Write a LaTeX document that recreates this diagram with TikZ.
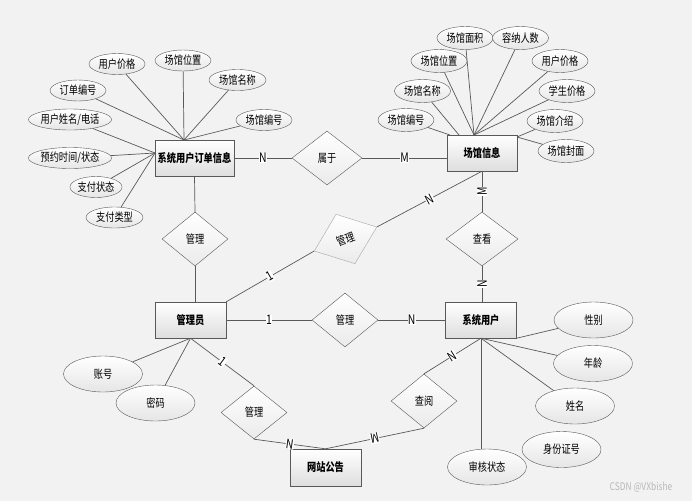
\documentclass[tikz,border=0pt]{standalone}
\usepackage{fontspec}
\setmainfont{Noto Sans CJK SC}[FakeStretch=0.8]
\usetikzlibrary{shapes}

\begin{document}
\begin{tikzpicture}[x=1pt, y=-1pt,
    every node/.style={font=\fontsize{11.5}{12}\selectfont},
    entity/.style={rectangle, draw=black!65, top color=white, bottom color=black!13, minimum width=71, minimum height=36, inner sep=0pt, font=\fontsize{11.5}{12}\selectfont\bfseries},
    rel/.style={diamond, draw=black!65, top color=white, bottom color=black!8, minimum width=66, minimum height=54, inner sep=0pt},
    attr/.style={ellipse, draw=black!65, top color=white, bottom color=black!10, minimum width=56, minimum height=21, inner sep=0pt},
    bigattr/.style={attr, minimum width=79, minimum height=36},
    card/.style={fill=white, inner sep=0.4pt, font=\fontsize{13}{13}\selectfont},
    link/.style={draw=black!65, line width=0.7pt}]
    \useasboundingbox (0,0) rectangle (692,501);
    \fill[black!5] (0,0) rectangle (692,501);

    \node[entity, minimum width=79] (order) at (194.5,158) {系统用户订单信息};
    \node[entity, minimum width=70] (venue) at (482,153) {场馆信息};
    \node[entity] (admin) at (190.5,320) {管理员};
    \node[entity] (sysuser) at (481,320) {系统用户};
    \node[entity, minimum height=37] (notice) at (325.5,467.5) {网站公告};

    \node[rel, minimum width=70] (belong) at (327,158) {属于};
    \node[rel] (mgr1) at (195,239) {管理};
    \node[rel, draw=black!35, rotate=21, minimum width=67, minimum height=53] (mgr2) at (345.5,239) {管理};
    \node[rel, minimum width=72] (view) at (482,239) {查看};
    \node[rel] (mgr3) at (345,320) {管理};
    \node[rel, minimum height=53] (mgr4) at (254,412.5) {管理};
    \node[rel] (read) at (424,401) {查阅};

    \coordinate (ohub) at (184,140);
    \coordinate (oleft) at (155,153);
    \foreach \n/\px/\py/\t/\w/\e in {
        oprice/117/64/用户价格/56/ohub,
        oloc/183/60.5/场馆位置/56/ohub,
        oname/237.5/80/场馆名称/57/ohub,
        ono/78/90.5/订单编号/56/ohub,
        ouser/70/119.5/{用户姓名/电话}/66/oleft,
        ocode/264/120/场馆编号/56/ohub,
        otime/70/158/{预约时间/状态}/66/oleft,
        opay/96/187/支付状态/46/oleft,
        optype/114.5/217.5/支付类型/57/oleft}
    {
        \node[attr, minimum width=\w] (\n) at (\px,\py) {\t};
        \draw[link] (\e) -- (\n);
    }

    \coordinate (vhub) at (474,135);
    \coordinate (vhub2) at (459,135);
    \coordinate (vhub3) at (450,135);
    \coordinate (vright) at (517,137);
    \foreach \n/\px/\py/\t/\e in {
        varea/465/38/场馆面积/vhub,
        vcap/520.5/38/容纳人数/vhub,
        vloc/439/61/场馆位置/vhub,
        vuprice/560/61/用户价格/vhub,
        vname/422.5/91/场馆名称/vhub2,
        vsprice/567/91/学生价格/vhub,
        vcode/406/120/场馆编号/vhub3,
        vintro/555/121/场馆介绍/vright,
        vcover/566/151/场馆封面/vright}
    {
        \node[attr, minimum height=23] (\n) at (\px,\py) {\t};
        \draw[link] (\e) -- (\n);
    }

    \node[bigattr] (acct) at (103,374) {账号};
    \node[bigattr] (pwd) at (155.5,403) {密码};
    \draw[link] (admin.south) -- (acct);
    \draw[link] (admin.south) -- (pwd);

    \node[bigattr] (sex) at (593.5,320) {性别};
    \node[bigattr] (age) at (593,363.5) {年龄};
    \node[bigattr] (uname) at (575,406) {姓名};
    \node[bigattr] (idno) at (561.5,449.5) {身份证号};
    \node[bigattr] (audit) at (487,467) {审核状态};
    \draw[link] (sysuser.south east) -- (sex);
    \draw[link] (sysuser.south) -- (age);
    \draw[link] (sysuser.south) -- (uname);
    \draw[link] (sysuser.south) -- (sysuser.south |- audit.north);

    \draw[link] (order.east) -- node[card]{N} (belong.west);
    \draw[link] (belong.east) -- node[card]{M} (belong.east -| venue.west);
    \draw[link] (order.south) -- (mgr1.north);
    \draw[link] (mgr1.south) -- (mgr1.south |- admin.north);
    \draw[link] (admin.north east) -- node[card, sloped]{1} (mgr2.west);
    \draw[link] (mgr2.east) -- node[card, sloped]{N} (venue.south);
    \draw[link] (venue.south) -- node[card, rotate=90]{M} (view.north);
    \draw[link] (view.south) -- node[card, rotate=90]{N} (view.south |- sysuser.north);
    \draw[link] (admin.east) -- node[card]{1} (mgr3.west);
    \draw[link] (mgr3.east) -- node[card]{N} (sysuser.west);
    \draw[link] (admin.south) -- node[card, sloped]{1} (mgr4.north);
    \draw[link] (mgr4.south) -- node[card, sloped]{N} (notice.north);
    \draw[link] (notice.north) -- node[card, rotate=192]{M} (read.south);
    \draw[link] (read.north) -- node[card, sloped]{N} (sysuser.south);

    \node[text=black!28, font=\fontsize{10.5}{11}\selectfont] (mark) at (641,487) {CSDN @VXbishe};
\end{tikzpicture}
\end{document}
